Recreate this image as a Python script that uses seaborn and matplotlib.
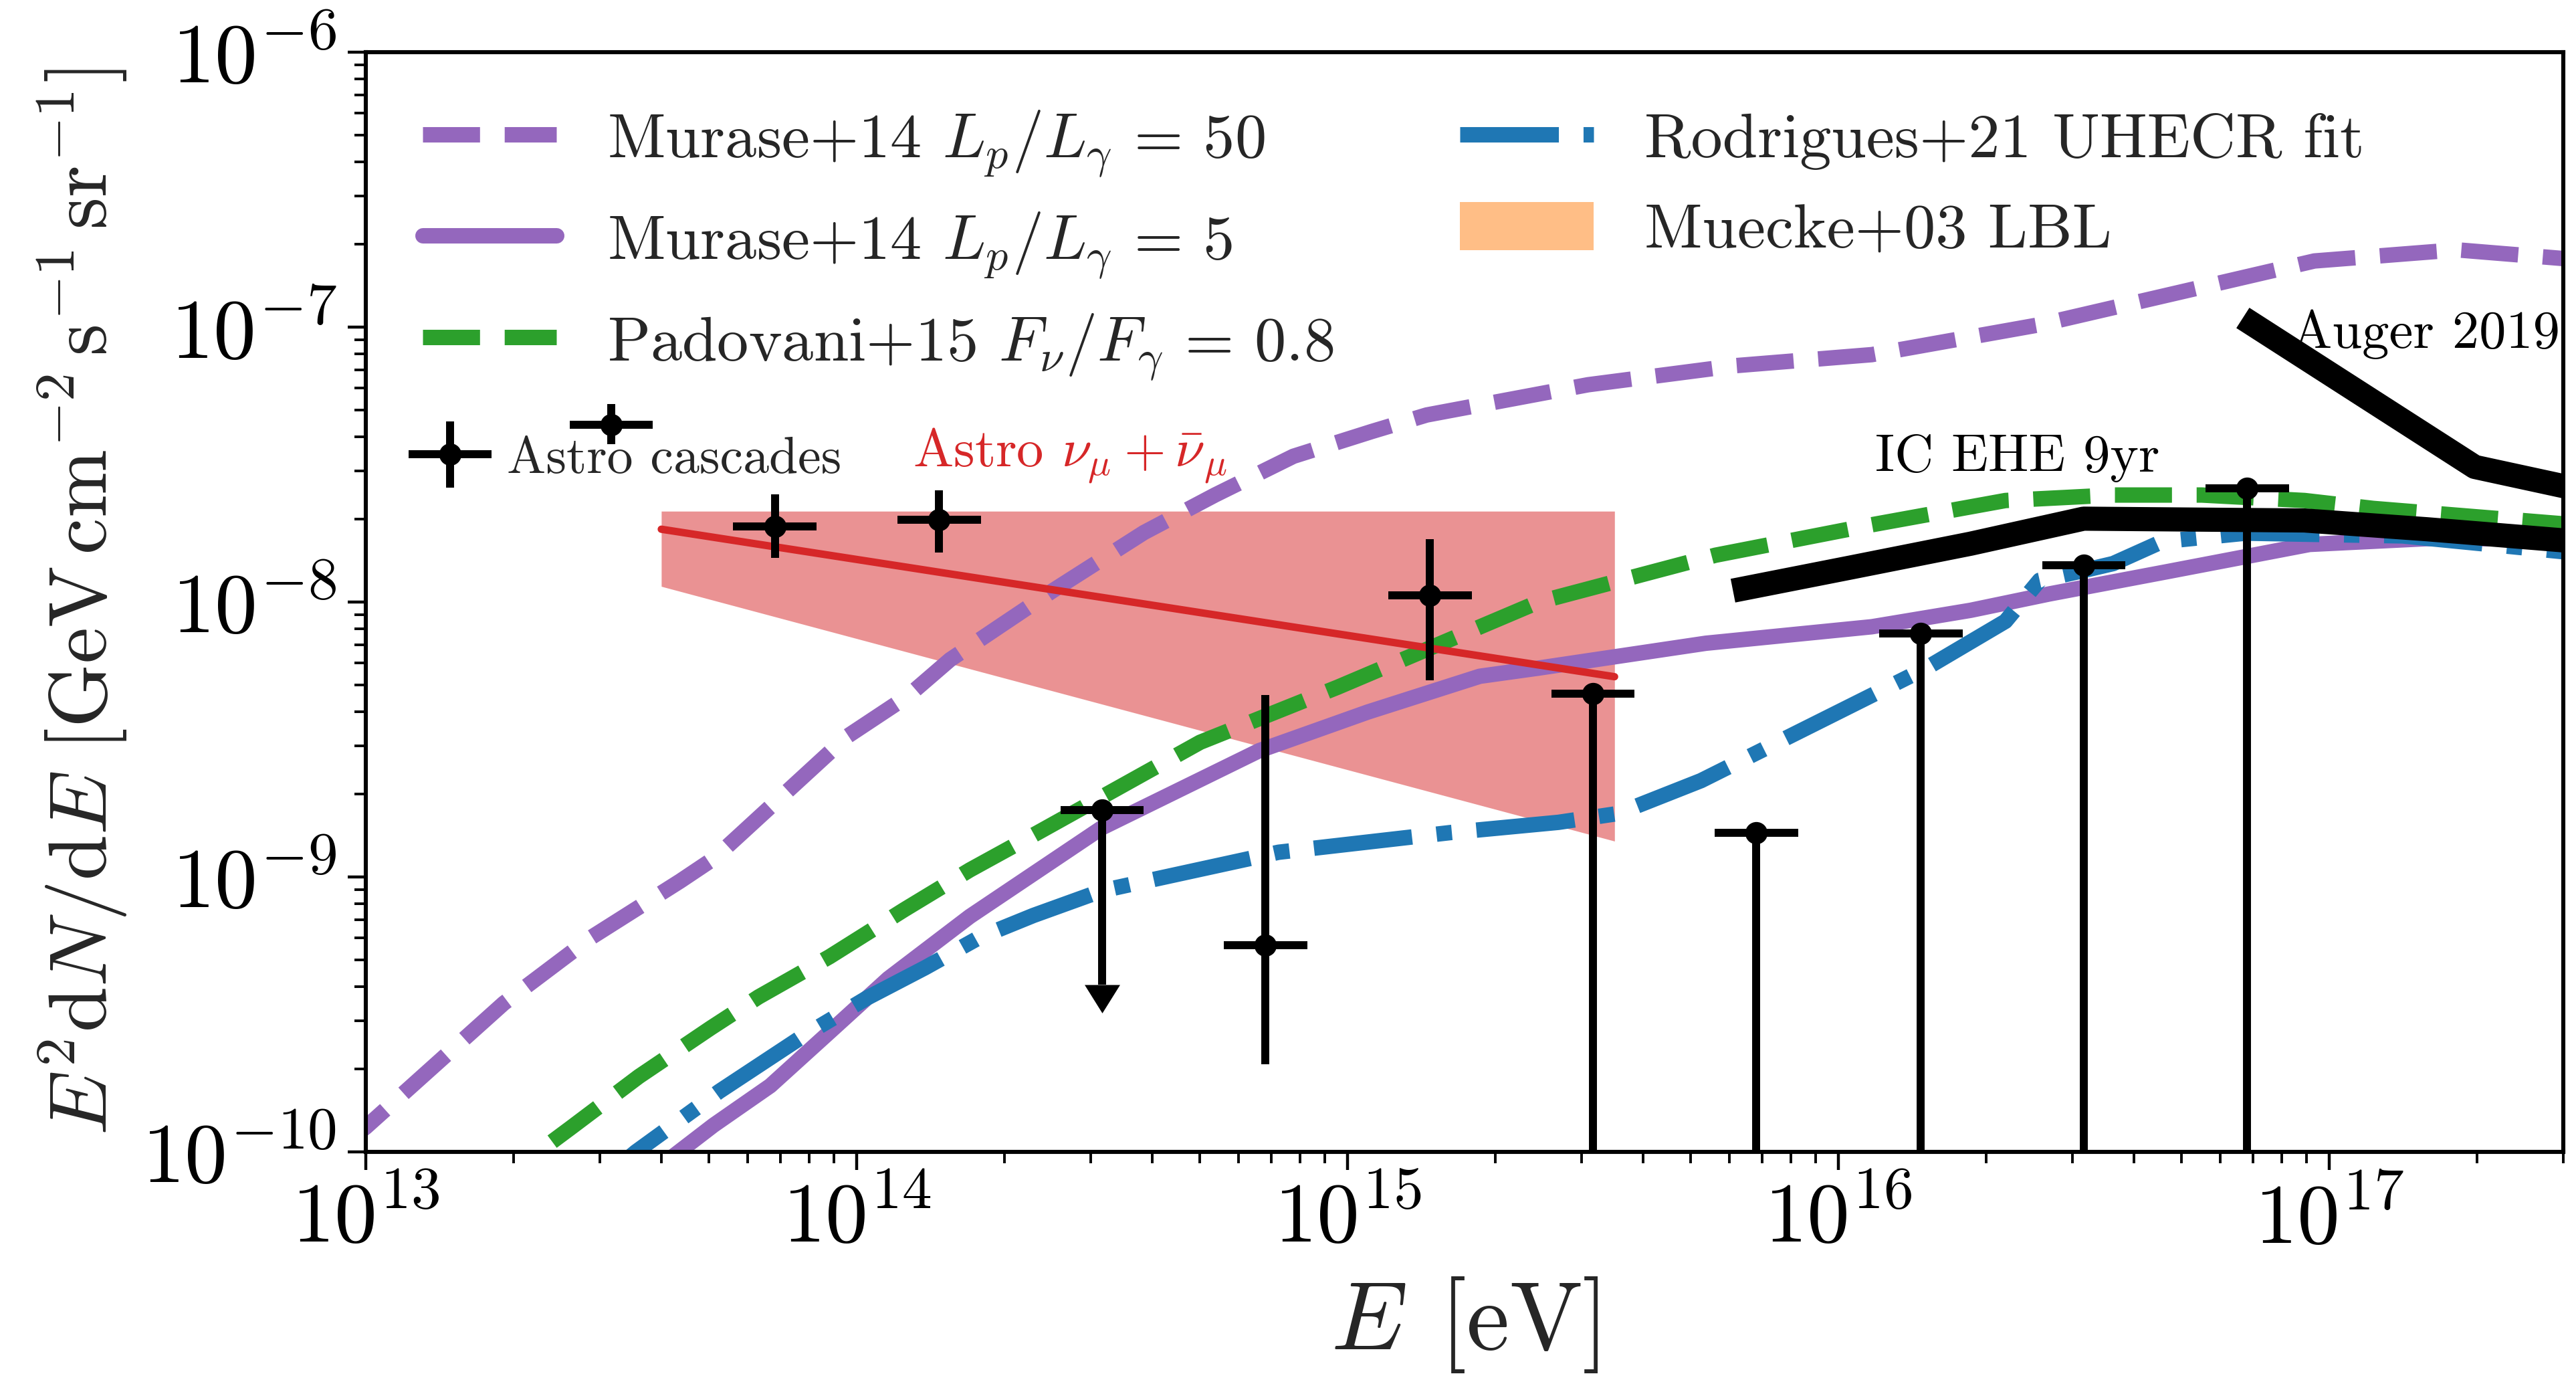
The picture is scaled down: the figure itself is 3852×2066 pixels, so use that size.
import numpy as np
import pandas as pd
import matplotlib
matplotlib.use("Agg")
import matplotlib.pyplot as plt
import seaborn as sns
from matplotlib.patches import Patch
from matplotlib.legend_handler import HandlerErrorbar

# ---------------- data ----------------
murase50_E = [8.91e12, 1.0e13, 1.91e13, 2.88e13, 4.37e13, 5.13e13, 5.75e13, 9.55e13, 1.27e14,
              1.55e14, 1.95e14, 2.51e14, 3.85e14, 5.37e14, 7.76e14, 1.12e15, 1.45e15, 3.09e15,
              6.17e15, 1.17e16, 2.57e16, 5.62e16, 9.33e16, 1.82e17, 2.95e17, 3.16e17]
murase50_F = [1.05e-10, 1.23e-10, 3.47e-10, 6.03e-10, 9.66e-10, 1.17e-9, 1.41e-9, 3.24e-9, 4.54e-9,
              6.17e-9, 8.13e-9, 1.10e-8, 1.79e-8, 2.45e-8, 3.39e-8, 4.17e-8, 4.79e-8, 6.17e-8,
              7.24e-8, 7.94e-8, 1.02e-7, 1.41e-7, 1.74e-7, 1.91e-7, 1.78e-7, 1.76e-7]

murase5_E = [3.55e13, 4.20e13, 5.11e13, 6.67e13, 8.81e13, 1.16e14, 1.70e14, 3.16e14, 6.61e14,
             1.10e15, 1.86e15, 2.45e15, 5.37e15, 1.17e16, 1.86e16, 2.69e16, 4.68e16, 9.12e16,
             1.58e17, 3.16e17]
murase5_F = [7.59e-11, 9.55e-11, 1.25e-10, 1.74e-10, 2.73e-10, 4.27e-10, 7.18e-10, 1.51e-9, 2.88e-9,
             3.98e-9, 5.37e-9, 5.75e-9, 7.08e-9, 8.13e-9, 9.33e-9, 1.07e-8, 1.29e-8, 1.62e-8,
             1.70e-8, 1.70e-8]

padovani_E = [1.78e13, 2.17e13, 2.61e13, 3.60e13, 5.04e13, 6.31e13, 8.81e13, 1.25e14, 1.70e14,
              2.34e14, 5.01e14, 9.55e14, 2.45e15, 5.62e15, 1.17e16, 2.19e16, 3.63e16, 5.50e16,
              8.91e16, 1.23e17, 3.16e17]
padovani_F = [7.08e-11, 9.55e-11, 1.22e-10, 1.88e-10, 2.82e-10, 3.66e-10, 5.13e-10, 7.60e-10,
              1.06e-9, 1.45e-9, 3.09e-9, 4.90e-9, 1.0e-8, 1.48e-8, 1.91e-8, 2.34e-8, 2.45e-8,
              2.45e-8, 2.34e-8, 2.19e-8, 1.91e-8]

rodrigues_E = [2.82e13, 3.55e13, 5.25e13, 7.76e13, 1.05e14, 1.38e14, 1.78e14, 2.29e14, 3.16e14,
               7.24e14, 1.62e15, 2.69e15, 3.55e15, 5.25e15, 1.51e16, 2.19e16, 2.57e16, 3.09e16,
               3.63e16, 4.57e16, 6.76e16, 1.41e17, 3.16e17]
rodrigues_F = [7.08e-11, 1.0e-10, 1.66e-10, 2.63e-10, 3.63e-10, 4.68e-10, 6.03e-10, 7.24e-10, 8.91e-10,
               1.23e-9, 1.45e-9, 1.58e-9, 1.70e-9, 2.24e-9, 5.75e-9, 8.51e-9, 1.20e-8, 1.29e-8,
               1.38e-8, 1.66e-8, 1.78e-8, 1.74e-8, 1.51e-8]

astro_numu_E = [4.0e13, 3.5e15]
astro_numu_best = [1.84e-8, 5.35e-9]
astro_numu_hi = [2.14e-8, 2.14e-8]
astro_numu_lo = [1.14e-8, 1.35e-9]

icehe_E = [6.1e15, 1.07e16, 1.86e16, 3.16e16, 8.9e16, 1.58e17, 2.95e17, 3.16e17]
icehe_F = [1.10e-8, 1.34e-8, 1.63e-8, 2.01e-8, 1.98e-8, 1.84e-8, 1.68e-8, 1.66e-8]

auger_E = [6.67e16, 1.98e17, 3.0e17, 3.16e17]
auger_F = [1.08e-7, 3.10e-8, 2.64e-8, 2.58e-8]

# Astro cascades (two-sided points)
casc_E = [3.16e13, 6.81e13, 1.47e14, 1.47e15, 6.81e14]
casc_Elo = [2.60e13, 5.60e13, 1.21e14, 1.21e15, 5.60e14]
casc_Ehi = [3.84e13, 8.28e13, 1.79e14, 1.79e15, 8.28e14]
casc_F = [4.42e-8, 1.88e-8, 1.99e-8, 1.06e-8, 5.65e-10]
casc_Flo = [3.75e-8, 1.45e-8, 1.51e-8, 5.19e-9, 2.08e-10]
casc_Fhi = [5.25e-8, 2.47e-8, 2.55e-8, 1.69e-8, 4.59e-9]

# Astro cascades: points whose lower error reaches zero
zero_E = [3.16e15, 6.81e15, 1.47e16, 3.16e16, 6.81e16]
zero_Elo = [2.60e15, 5.60e15, 1.21e16, 2.60e16, 5.60e16]
zero_Ehi = [3.84e15, 8.28e15, 1.79e16, 3.84e16, 8.28e16]
zero_F = [4.64e-9, 1.45e-9, 7.69e-9, 1.36e-8, 2.59e-8]
zero_Flo = [1e-13, 1e-13, 1e-13, 1e-13, 1e-13]

# Astro cascades: upper limit
ul_E = [3.16e14]
ul_Elo = [2.60e14]
ul_Ehi = [3.84e14]
ul_F = [1.75e-9]
ul_Fend = [4.05e-10]

# ---------------- style ----------------
sns.set_theme(style="ticks")
plt.rcParams.update({
    "font.family": "serif",
    "font.serif": ["cmr10", "DejaVu Serif"],
    "mathtext.fontset": "cm",
    "axes.unicode_minus": False,
    "axes.formatter.use_mathtext": True,
    "axes.linewidth": 2.2,
    "axes.edgecolor": "black",
    "xtick.major.size": 9.7, "ytick.major.size": 9.7,
    "xtick.minor.size": 6, "ytick.minor.size": 6,
    "xtick.major.width": 1.6, "ytick.major.width": 1.6,
    "xtick.minor.width": 1.4, "ytick.minor.width": 1.4,
    "xtick.color": "black", "ytick.color": "black",
    "xtick.labelsize": 46, "ytick.labelsize": 46,
})

fig = plt.figure(figsize=(19.26, 10.33), dpi=200)
ax = fig.add_axes([0.1420, 0.16651, 0.9951 - 0.1420, 0.96225 - 0.16651])

purple, green, blue = "#9467bd", "#2ca02c", "#1f77b4"
lw = 8.3

# astro numu band
ax.fill_between(astro_numu_E, astro_numu_lo, astro_numu_hi, color="tab:red", alpha=0.5,
                linewidth=0, zorder=1)

def curve(E, F, **kw):
    df = pd.DataFrame({"E": E, "F": F})
    sns.lineplot(data=df, x="E", y="F", ax=ax, sort=False, estimator=None, **kw)
    return ax.get_lines()[-1]

h1 = curve(murase50_E, murase50_F, color=purple, lw=lw, linestyle="--", zorder=2)
h2 = curve(murase5_E, murase5_F, color=purple, lw=lw, linestyle="-", zorder=2)
h3 = curve(padovani_E, padovani_F, color=green, lw=lw, linestyle="--", zorder=2)
h4 = curve(rodrigues_E, rodrigues_F, color=blue, lw=lw, linestyle="-.", zorder=2)

curve(astro_numu_E, astro_numu_best, color="tab:red", lw=4, zorder=3)

ic = curve(icehe_E, icehe_F, color="black", lw=13, zorder=3)
au = curve(auger_E, auger_F, color="black", lw=13, zorder=3)
for h in (ic, au):
    h.set_solid_capstyle("butt")

E = np.array(casc_E); F = np.array(casc_F)
eb = ax.errorbar(E, F,
                 xerr=[E - np.array(casc_Elo), np.array(casc_Ehi) - E],
                 yerr=[F - np.array(casc_Flo), np.array(casc_Fhi) - F],
                 fmt="o", color="black", ms=11, elinewidth=4.3, capsize=0, zorder=4)
Ez = np.array(zero_E); Fz = np.array(zero_F)
ax.errorbar(Ez, Fz, xerr=[Ez - np.array(zero_Elo), np.array(zero_Ehi) - Ez],
            yerr=[Fz - np.array(zero_Flo), np.zeros_like(Fz)],
            fmt="o", color="black", ms=11, elinewidth=4.3, capsize=0, zorder=4)
Eu = np.array(ul_E); Fu = np.array(ul_F)
ax.errorbar(Eu, Fu, xerr=[Eu - np.array(ul_Elo), np.array(ul_Ehi) - Eu],
            yerr=[Fu - np.array(ul_Fend), np.zeros_like(Fu)],
            fmt="o", color="black", ms=11, elinewidth=4.3, capsize=0, zorder=4)
arrow_head = [(-1.0, 0.0), (1.0, 0.0), (0.0, -1.6), (-1.0, 0.0)]
ax.plot(ul_E, ul_Fend, linestyle="none", marker=arrow_head, ms=30.5,
        color="black", markeredgewidth=0, zorder=4)

ax.set_xscale("log")
ax.set_yscale("log")
ax.set_xlim(1e13, 3e17)
ax.set_ylim(1e-10, 1e-6)
ax.tick_params(which="both", top=False, right=False)
ax.tick_params(axis="both", which="major", pad=6)
for s in ax.spines.values():
    s.set_visible(True)
    s.set_linewidth(2.2)
    s.set_color("black")

ax.set_xlabel(r"$E\:\:[\mathrm{eV}]$", fontsize=52, labelpad=8)
ax.set_ylabel(r"$E^2\mathrm{d}N/\mathrm{d}E\ [\mathrm{GeV\,cm^{-2}\,s^{-1}\,sr^{-1}}]$",
              fontsize=44, labelpad=7)

# annotations
ax.text(1.30e14, 3.1e-8, r"Astro $\nu_\mu+\bar{\nu}_\mu$", color="tab:red", fontsize=29,
        ha="left", va="baseline")
ax.text(1.19e16, 2.98e-8, "IC EHE 9yr", color="black", fontsize=29, ha="left", va="baseline")
ax.text(8.4e16, 8.4e-8, "Auger 2019", color="black", fontsize=29, ha="left", va="baseline")

# legends
muecke = Patch(facecolor="tab:orange", alpha=0.5, edgecolor="none")
leg1 = ax.legend([h1, h2, h3, h4, muecke],
                 [r"Murase+14 $L_p/L_\gamma\,=\,50$", r"Murase+14 $L_p/L_\gamma\,=\,5$",
                  r"Padovani+15 $F_\nu/F_\gamma\,=\,0.8$", "Rodrigues+21 UHECR fit",
                  "Muecke+03 LBL"],
                 loc="upper left", ncol=2, frameon=False, fontsize=34, handlelength=2.12,
                 handleheight=0.8, columnspacing=2.0)
ax.add_artist(leg1)
ax.legend([eb], ["Astro cascades"], loc="center left", bbox_to_anchor=(0.0183, 0.6296),
          frameon=False, fontsize=28, handlelength=1.7, handletextpad=0.24,
          borderpad=0, borderaxespad=0,
          handler_map={type(eb): HandlerErrorbar(xerr_size=0.8, yerr_size=0.64)})

fig.savefig("out.png", dpi=200)
